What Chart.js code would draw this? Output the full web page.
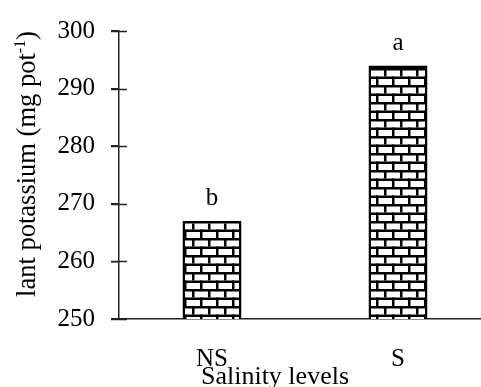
<!DOCTYPE html>
<html>
<head>
<meta charset="utf-8">
<script src="https://cdn.jsdelivr.net/npm/chart.js@4"></script>
<style>
  html, body { margin: 0; padding: 0; background: #fff; overflow: hidden; }
  #wrap { width: 491px; height: 387px; }
</style>
</head>
<body>
<div id="wrap"><canvas id="chart" width="491" height="387"></canvas></div>
<script>
// data
const categories = ['NS', 'S'];
const potassium = [267, 294];
const letters = ['b', 'a'];
const yMin = 250;
const yMax = 300;
const yStep = 10;
const xTitle = 'Salinity levels';
const yTitle = ['lant potassium (mg pot', '-1', ')'];

const serif = '"Liberation Serif", "Times New Roman", Times, serif';
const axisColor = '#222';

// brick fill
function brickPattern() {
	const c = document.createElement('canvas');
	c.width = 16; c.height = 17;
	const g = c.getContext('2d');
	g.fillStyle = '#fff';
	g.fillRect(0, 0, 16, 17);
	g.fillStyle = '#000';
	g.fillRect(0, 0, 16, 2.5);
	g.fillRect(0, 8.5, 16, 2.5);
	g.fillRect(0, 0, 2.5, 8.5);
	g.fillRect(8, 8.5, 2.5, 8.5);
	return g.createPattern(c, 'repeat');
}

const extras = {
	id: 'extras',
	afterDraw(chart) {
		const ctx = chart.ctx;
		const ys = chart.scales.y;
		const area = chart.chartArea;
		ctx.save();
		// ticks crossing the y axis
		ctx.strokeStyle = axisColor;
		ctx.lineWidth = 1.5;
		ys.ticks.forEach(t => {
			const py = Math.round(ys.getPixelForValue(t.value)) + 0.5;
			ctx.beginPath();
			ctx.moveTo(area.left - 8, py);
			ctx.lineTo(area.left + 8, py);
			ctx.stroke();
		});
		// significance letters
		ctx.fillStyle = '#000';
		ctx.font = '25px ' + serif;
		ctx.textAlign = 'center';
		ctx.textBaseline = 'alphabetic';
		chart.getDatasetMeta(0).data.forEach((bar, i) => {
			ctx.fillText(letters[i], bar.x, bar.y - 16);
		});
		// x title
		ctx.font = '26px ' + serif;
		ctx.fillText(xTitle, 275, 384);
		// y title with superscript
		ctx.translate(35, 164);
		ctx.rotate(-Math.PI / 2);
		ctx.textAlign = 'left';
		const big = '26.5px ' + serif, small = '16px ' + serif;
		ctx.font = big; const w0 = ctx.measureText(yTitle[0]).width;
		ctx.font = small; const w1 = ctx.measureText(yTitle[1]).width;
		ctx.font = big; const w2 = ctx.measureText(yTitle[2]).width;
		let x = -(w0 + w1 + w2) / 2;
		ctx.font = big; ctx.fillText(yTitle[0], x, 0); x += w0;
		ctx.font = small; ctx.fillText(yTitle[1], x, -10); x += w1;
		ctx.font = big; ctx.fillText(yTitle[2], x, 0);
		ctx.restore();
	}
};

function draw() {
	new Chart(document.getElementById('chart'), {
		type: 'bar',
		data: {
			labels: categories,
			datasets: [{
				data: potassium,
				backgroundColor: brickPattern(),
				borderColor: '#000',
				borderWidth: 2.5,
				categoryPercentage: 1,
				barPercentage: 0.317
			}]
		},
		options: {
			responsive: false,
			animation: false,
			layout: { padding: { top: 26, left: 0, right: 0, bottom: 0 } },
			plugins: { legend: { display: false }, tooltip: { enabled: false } },
			scales: {
				x: {
					grid: { display: false },
					border: { display: true, color: axisColor, width: 1.5 },
					ticks: { color: '#000', font: { family: serif, size: 25 }, padding: 17 },
					afterFit(s) { s.height = 68; }
				},
				y: {
					min: yMin,
					max: yMax,
					grid: { drawOnChartArea: false, drawTicks: true, tickLength: 8, color: axisColor, lineWidth: 1.5 },
					border: { display: true, color: axisColor, width: 1.5 },
					ticks: { stepSize: yStep, color: '#000', font: { family: serif, size: 25 }, padding: 16 },
					afterFit(s) { s.width = 119; }
				}
			}
		},
		plugins: [extras]
	});
}

document.fonts.load('25px "Liberation Serif"').then(draw, draw);
</script>
</body>
</html>
